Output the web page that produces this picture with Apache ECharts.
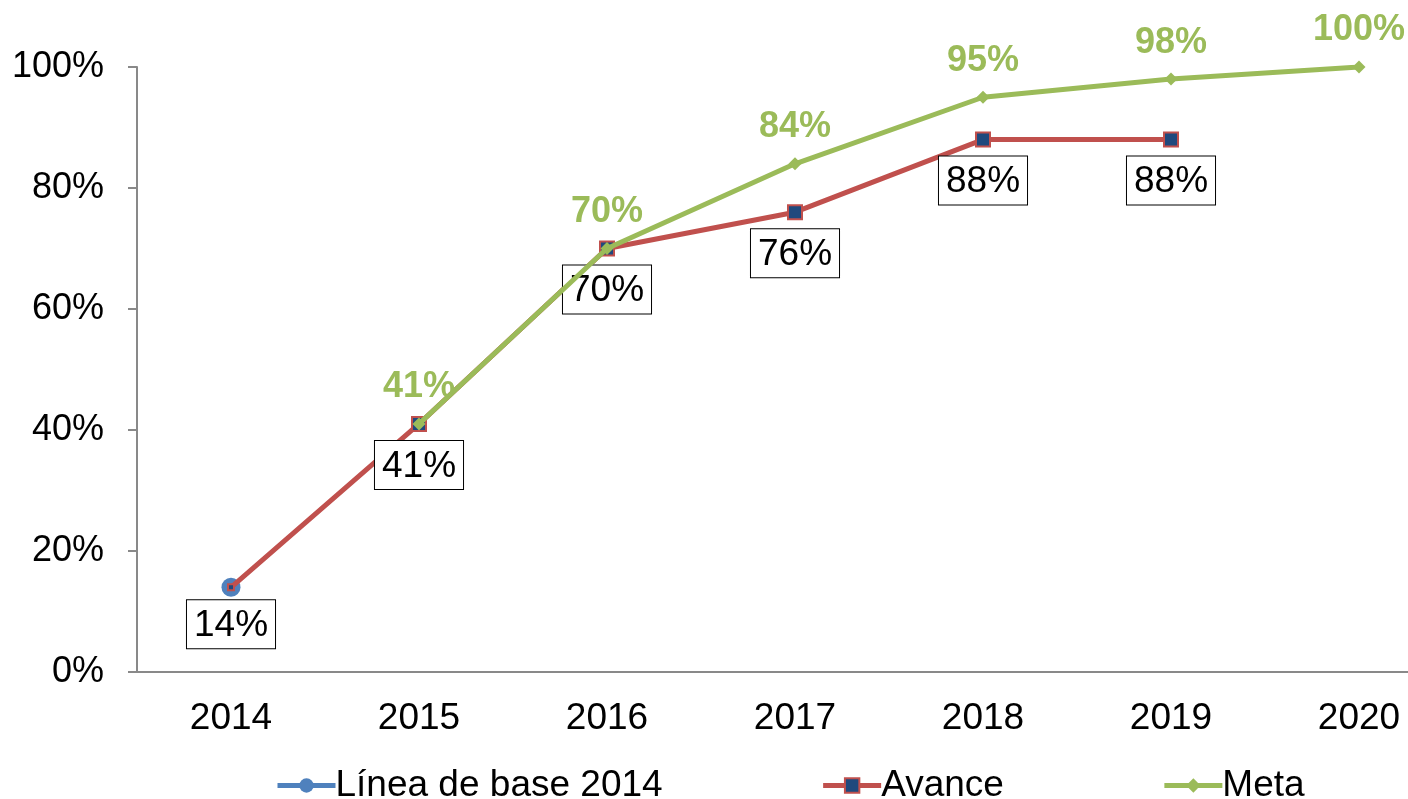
<!DOCTYPE html>
<html>
<head>
<meta charset="utf-8">
<script src="https://cdn.jsdelivr.net/npm/echarts@6/dist/echarts.min.js"></script>
<style>
  html, body { margin: 0; padding: 0; background: #fff; }
  #chart { width: 1408px; height: 799px; }
</style>
</head>
<body>
<div id="chart"></div>
<script>
var years = ["2014", "2015", "2016", "2017", "2018", "2019", "2020"];
var lineaBase = [14, "-", "-", "-", "-", "-", "-"];
var avance = [14, 41, 70, 76, 88, 88, "-"];
var meta = ["-", 41, 70, 84, 95, 98, 100];
var yTicks = { min: 0, max: 100, interval: 20 };

var font = "Liberation Sans, Arial, sans-serif";
var myChart = echarts.init(document.getElementById("chart"));

var option = {
  animation: false,
  textStyle: { fontFamily: font },
  grid: { left: 137, width: 1316, top: 67, bottom: 127, outerBoundsMode: "none" },
  legend: {
    left: 270,
    top: 762,
    itemGap: 158,
    itemWidth: 58,
    itemHeight: 18,
    textStyle: { fontSize: 37, color: "#000", fontFamily: font, padding: [0, 0, 0, -5] },
    data: [
      { name: "Línea de base 2014", lineStyle: { width: 5 } },
      { name: "Avance", lineStyle: { width: 5 } },
      { name: "Meta", lineStyle: { width: 5 } },
    ],
  },
  xAxis: {
    type: "category",
    data: years,
    boundaryGap: true,
    axisLine: { lineStyle: { color: "#898989", width: 2 } },
    axisTick: { length: 10, lineStyle: { color: "#898989", width: 2 } },
    axisLabel: { color: "#000", fontSize: 37, margin: 28, fontFamily: font },
  },
  yAxis: {
    type: "value",
    min: yTicks.min,
    max: yTicks.max,
    interval: yTicks.interval,
    splitLine: { show: false },
    axisLine: { show: true, lineStyle: { color: "#898989", width: 2 } },
    axisTick: { show: true, length: 9, lineStyle: { color: "#898989", width: 2 } },
    axisLabel: { formatter: "{value}%", color: "#000", fontSize: 36, margin: 33, fontFamily: font },
  },
  series: [
    {
      name: "Línea de base 2014",
      type: "line",
      data: lineaBase,
      symbol: "circle",
      symbolSize: 19,
      itemStyle: { color: "#4F81BD" },
      lineStyle: { color: "#4F81BD", width: 4 },
      z: 2,
    },
    {
      name: "Avance",
      type: "line",
      data: avance.map(function (v, i) {
        return i === 0 ? { value: v, symbolSize: 6 } : v;
      }),
      symbol: "rect",
      symbolSize: 14,
      itemStyle: { color: "#1F497D", borderColor: "#C0504D", borderWidth: 2 },
      lineStyle: { color: "#C0504D", width: 5 },
      label: {
        show: true,
        position: "bottom",
        distance: 9,
        formatter: "{c}%",
        color: "#000",
        fontSize: 37,
        fontFamily: font,
        backgroundColor: "#fff",
        borderColor: "#000",
        borderWidth: 1,
        padding: [7, 7, 4, 7],
      },
      z: 3,
    },
    {
      name: "Meta",
      type: "line",
      data: meta,
      symbol: "diamond",
      symbolSize: 13,
      itemStyle: { color: "#9BBB59" },
      lineStyle: { color: "#9BBB59", width: 5 },
      label: {
        show: true,
        position: "top",
        distance: 12,
        formatter: "{c}%",
        color: "#9BBB59",
        fontSize: 36,
        fontWeight: "bold",
        fontFamily: font,
      },
      z: 4,
    },
  ],
};
myChart.setOption(option);
</script>
</body>
</html>
